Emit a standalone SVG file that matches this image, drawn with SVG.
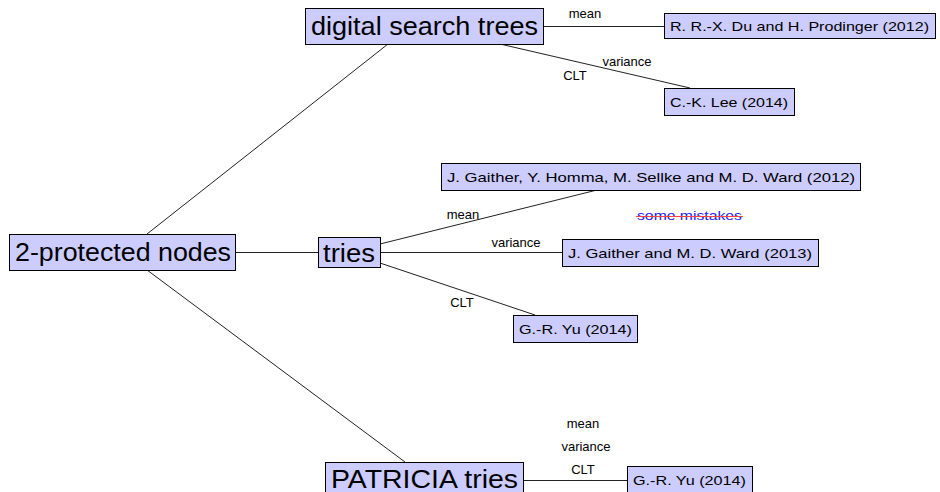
<svg xmlns="http://www.w3.org/2000/svg" width="940" height="492" viewBox="0 0 940 492">
<style>
.box{fill:#ccccff;stroke:#000;stroke-width:1}
.big{font-family:"Liberation Sans","DejaVu Sans",sans-serif;font-size:25px;fill:#000}
.sm{font-family:"Liberation Sans","DejaVu Sans",sans-serif;font-size:13.5px;fill:#000}
.lbl{font-family:"Liberation Sans","DejaVu Sans",sans-serif;font-size:13px;fill:#000;text-anchor:middle}
.edge{stroke:#222;stroke-width:1;fill:none}
</style>
<rect width="940" height="492" fill="#fff"/>
<g id="connectors">
<line class="edge" x1="388" y1="44" x2="147" y2="234"/>
<line class="edge" x1="236" y1="252.5" x2="318" y2="252.5"/>
<line class="edge" x1="147" y1="270" x2="405" y2="462"/>
<line class="edge" x1="543" y1="26.5" x2="664" y2="26.5"/>
<line class="edge" x1="500" y1="44" x2="690" y2="88"/>
<line class="edge" x1="380" y1="244" x2="597" y2="190"/>
<line class="edge" x1="380" y1="252.5" x2="562" y2="252.5"/>
<line class="edge" x1="380" y1="263" x2="535" y2="315"/>
<line class="edge" x1="523" y1="480.5" x2="627" y2="480.5"/>
<text class="lbl" x="585" y="18">mean</text>
<text class="lbl" x="627" y="66">variance</text>
<text class="lbl" x="575" y="80">CLT</text>
<text class="lbl" x="463" y="219">mean</text>
<text class="lbl" x="516" y="247">variance</text>
<text class="lbl" x="462" y="307">CLT</text>
<text class="lbl" x="583" y="428">mean</text>
<text class="lbl" x="586" y="451">variance</text>
<text class="lbl" x="583" y="474">CLT</text>
</g>
<g id="n-2protected">
<rect class="box" x="9.5" y="234.5" width="226" height="36"/>
<text class="big" x="15" y="261" textLength="216" lengthAdjust="spacingAndGlyphs">2-protected nodes</text>
</g>
<g id="n-dst">
<rect class="box" x="305.5" y="8.5" width="238" height="36"/>
<text class="big" x="311" y="35" textLength="227" lengthAdjust="spacingAndGlyphs">digital search trees</text>
</g>
<g id="n-tries">
<rect class="box" x="318.5" y="237.5" width="62" height="30"/>
<text class="big" x="323" y="262" textLength="52" lengthAdjust="spacingAndGlyphs">tries</text>
</g>
<g id="n-patricia">
<rect class="box" x="325.5" y="462.5" width="198" height="36"/>
<text class="big" x="331" y="488" textLength="187" lengthAdjust="spacingAndGlyphs">PATRICIA tries</text>
</g>
<g id="n-du">
<rect class="box" x="664.5" y="13.5" width="271" height="25"/>
<text class="sm" x="670" y="31" textLength="259" lengthAdjust="spacingAndGlyphs">R. R.-X. Du and H. Prodinger (2012)</text>
</g>
<g id="n-lee">
<rect class="box" x="664.5" y="88.5" width="130" height="27"/>
<text class="sm" x="670" y="107" textLength="118" lengthAdjust="spacingAndGlyphs">C.-K. Lee (2014)</text>
</g>
<g id="n-gaither2012">
<rect class="box" x="441.5" y="163.5" width="419" height="27"/>
<text class="sm" x="447" y="182" textLength="408" lengthAdjust="spacingAndGlyphs">J. Gaither, Y. Homma, M. Sellke and M. D. Ward (2012)</text>
</g>
<g id="n-gaither2013">
<rect class="box" x="562.5" y="239.5" width="256" height="27"/>
<text class="sm" x="568" y="258" textLength="244" lengthAdjust="spacingAndGlyphs">J. Gaither and M. D. Ward (2013)</text>
</g>
<g id="n-yu-tries">
<rect class="box" x="513.5" y="315.5" width="124" height="27"/>
<text class="sm" x="519" y="334" textLength="113" lengthAdjust="spacingAndGlyphs">G.-R. Yu (2014)</text>
</g>
<g id="n-yu-patricia">
<rect class="box" x="627.5" y="466.5" width="125" height="27"/>
<text class="sm" x="633" y="485" textLength="113" lengthAdjust="spacingAndGlyphs">G.-R. Yu (2014)</text>
</g>
<g id="note">
<text class="sm" x="637" y="220" style="fill:#2222ff" textLength="105" lengthAdjust="spacingAndGlyphs">some mistakes</text>
<line x1="636" y1="216.5" x2="743" y2="216.5" stroke="#ff4444" stroke-width="1.2"/>
</g>
</svg>
